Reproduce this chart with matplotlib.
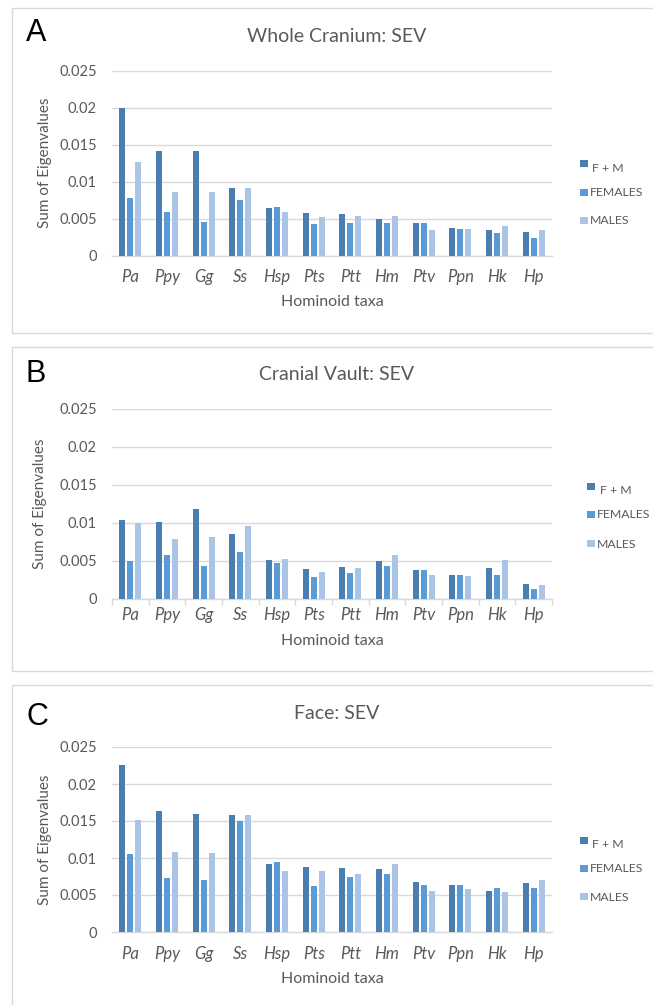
import matplotlib
matplotlib.use("Agg")
import matplotlib.pyplot as plt
from matplotlib.patches import Rectangle, Patch
import numpy as np

taxa = ["Pa", "Ppy", "Gg", "Ss", "Hsp", "Pts", "Ptt", "Hm", "Ptv", "Ppn", "Hk", "Hp"]
series = ["F + M", "FEMALES", "MALES"]

whole_fm = [0.0200, 0.0142, 0.0141, 0.0091, 0.0065, 0.0058, 0.0056, 0.0050, 0.0044, 0.0038, 0.0035, 0.0032]
whole_f = [0.0078, 0.0059, 0.0045, 0.0075, 0.0066, 0.0043, 0.0044, 0.0044, 0.0044, 0.0036, 0.0031, 0.0024]
whole_m = [0.0127, 0.0086, 0.0086, 0.0092, 0.0059, 0.0052, 0.0054, 0.0054, 0.0035, 0.0036, 0.0040, 0.0035]

vault_fm = [0.0104, 0.0101, 0.0118, 0.0085, 0.0051, 0.0039, 0.0042, 0.0050, 0.0038, 0.0031, 0.0040, 0.0020]
vault_f = [0.0050, 0.0057, 0.0043, 0.0061, 0.0047, 0.0028, 0.0034, 0.0043, 0.0038, 0.0031, 0.0031, 0.0013]
vault_m = [0.0099, 0.0078, 0.0081, 0.0096, 0.0052, 0.0035, 0.0040, 0.0057, 0.0031, 0.0030, 0.0051, 0.0018]

face_fm = [0.0226, 0.0164, 0.0160, 0.0158, 0.0092, 0.0088, 0.0087, 0.0085, 0.0068, 0.0063, 0.0056, 0.0066]
face_f = [0.0105, 0.0073, 0.0070, 0.0150, 0.0094, 0.0062, 0.0074, 0.0079, 0.0063, 0.0063, 0.0059, 0.0060]
face_m = [0.0151, 0.0108, 0.0107, 0.0158, 0.0082, 0.0082, 0.0078, 0.0092, 0.0055, 0.0058, 0.0054, 0.0070]

yticks = [0, 0.005, 0.01, 0.015, 0.02, 0.025]
ytick_labels = ["0", "0.005", "0.01", "0.015", "0.02", "0.025"]

colors = ["#4a7eb0", "#5b9bd5", "#a9c4e4"]
TXT = "#595959"
GRID = "#d9d9d9"
FONT = ["Lato", "DejaVu Sans"]

W, H = 653, 1005
fig = plt.figure(figsize=(W / 100, H / 100), dpi=100)
fig.patch.set_facecolor("white")
plt.rcParams["font.family"] = FONT


def fx(x):
    return x / W


def fy(y):
    return 1 - y / H


panels = [
    dict(letter="A", title="Whole Cranium: SEV", data=(whole_fm, whole_f, whole_m),
         frame=(8, 333), top=70.7, bottom=255.7, letter_y=33, title_y=37,
         leg=(580, [168, 193, 221]), ticks=False, lab_y=277, xl_y=302, yl_x=45.5),
    dict(letter="B", title="Cranial Vault: SEV", data=(vault_fm, vault_f, vault_m),
         frame=(347, 671), top=408.7, bottom=598.7, letter_y=374, title_y=375,
         leg=(587, [491, 515, 544]), ticks=True, lab_y=615.3, xl_y=641, yl_x=40),
    dict(letter="C", title="Face: SEV", data=(face_fm, face_f, face_m),
         frame=(685, 1012), top=747, bottom=932, letter_y=717, title_y=713,
         leg=(580, [845, 869, 897]), ticks=False, lab_y=953.7, xl_y=979, yl_x=45.5),
]

x = np.arange(len(taxa))
bw = 0.172
step = 0.218

for p in panels:
    # frame
    y0, y1 = p["frame"]
    fig.patches.append(Rectangle((fx(12.5), fy(y1)), fx(660 - 12.5), (y1 - y0) / H,
                                 transform=fig.transFigure, fill=False,
                                 edgecolor="#d9d9d9", linewidth=1.0, zorder=0))
    fig.text(fx(26), fy(p["letter_y"]), p["letter"], fontsize=22, color="black",
             family=["Liberation Sans", "DejaVu Sans"], ha="left", va="center")
    fig.text(fx(337), fy(p["title_y"]), p["title"], fontsize=14, color=TXT,
             ha="center", va="center")

    ah = p["bottom"] - p["top"]
    ax = fig.add_axes([fx(112), fy(p["bottom"]), fx(552 - 112), ah / H])
    fm, f, m = p["data"]
    handles = []
    for i, (vals, c) in enumerate(zip((fm, f, m), colors)):
        ax.bar(x + (i - 1) * step, vals, width=bw, color=c, zorder=3)
        handles.append(Patch(facecolor=c, edgecolor="none"))

    ax.set_xlim(-0.5, len(taxa) - 0.5)
    ax.set_ylim(0, 0.025)
    ax.set_yticks(yticks)
    ax.set_yticklabels(ytick_labels, fontsize=10.5, color=TXT)
    ax.set_xticks(x)
    ax.set_xticklabels([])
    for xi, t in zip(x, taxa):
        ax.text(xi, -(p["lab_y"] - p["bottom"]) / ah, t, transform=ax.get_xaxis_transform(),
                fontsize=12, color=TXT, style="italic", ha="center", va="center")
    ax.tick_params(axis="y", length=0, pad=11)
    ax.tick_params(axis="x", which="major", length=0)
    if p["ticks"]:
        ax.set_xticks(np.arange(-0.5, len(taxa), 1.0), minor=True)
        ax.tick_params(axis="x", which="minor", length=4, width=1, color=GRID, direction="out")
    for s in ["top", "right", "left"]:
        ax.spines[s].set_visible(False)
    ax.spines["bottom"].set_color(GRID)
    ax.spines["bottom"].set_linewidth(1.0)
    ax.yaxis.grid(True, color=GRID, linewidth=1.0, zorder=0)
    ax.set_axisbelow(True)
    ax.set_ylabel("Sum of Eigenvalues", fontsize=11, color=TXT, va="center")
    ax.yaxis.set_label_coords((p["yl_x"] - 112) / 440, 0.5)
    ax.set_xlabel("Hominoid taxa", fontsize=11.5, color=TXT, va="center")
    ax.xaxis.set_label_coords(0.5, -(p["xl_y"] - p["bottom"]) / ah)
    ax.patch.set_alpha(0)

    lx, lys = p["leg"]
    for k, (h, lab, ly) in enumerate(zip(handles, series, lys)):
        raise_px = 4.5 if k == 0 else 0.5
        tx_off = 12.5 if k == 0 else 10
        fig.patches.append(Rectangle((fx(lx), fy(ly - raise_px + 3.75)), fx(7.5), 7.5 / H,
                                     transform=fig.transFigure, facecolor=h.get_facecolor(),
                                     edgecolor="none"))
        fig.text(fx(lx + tx_off), fy(ly), lab, fontsize=8.8, color=TXT, ha="left", va="center")

fig.savefig("out.png", dpi=100, facecolor="white")
